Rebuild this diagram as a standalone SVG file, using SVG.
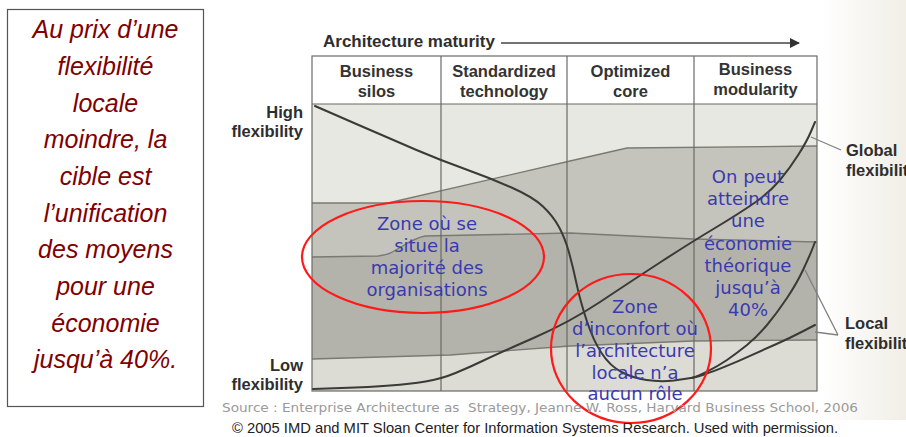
<svg xmlns="http://www.w3.org/2000/svg" width="906" height="437" viewBox="0 0 906 437">
<defs>
<style>
.note{font-family:"Liberation Sans",Arial,sans-serif;font-style:italic;font-size:25px;fill:#800000;text-anchor:middle}
.hdr{font-family:"Liberation Sans",Arial,sans-serif;font-weight:bold;font-size:16.5px;fill:#333;text-anchor:middle}
.lbl{font-family:"Liberation Sans",Arial,sans-serif;font-weight:bold;font-size:16.5px;fill:#2e2e2e}
.blue{font-family:"DejaVu Sans",Verdana,sans-serif;font-size:18px;fill:#3a3ab0;text-anchor:middle}
.grid{stroke:#6a6a66;stroke-width:1.2;fill:none}
.band{stroke:#7a7a72;stroke-width:1.3;fill:none}
.curve{stroke:#3a3a36;stroke-width:2;fill:none;stroke-linecap:round}
.lead{stroke:#808080;stroke-width:1.3;fill:none}
.ring{stroke:#ff1a1a;stroke-width:2.2;fill:none}
</style>
<marker id="ah" markerWidth="10" markerHeight="10" refX="9" refY="5" orient="auto" markerUnits="userSpaceOnUse">
<path d="M0,0 L10,5 L0,10 Z" fill="#333"/>
</marker>
<linearGradient id="paper" x1="0" y1="0" x2="1" y2="0">
<stop offset="0" stop-color="#ffffff"/>
<stop offset="1" stop-color="#f1eee6"/>
</linearGradient>
</defs>
<rect x="0" y="0" width="906" height="437" fill="#fff"/>
<rect x="820" y="0" width="86" height="420" fill="url(#paper)"/>

<g id="note-box">
<rect x="7.5" y="9.5" width="196" height="397" fill="#fff" stroke="#555" stroke-width="1.2"/>
<text class="note" x="105.5" y="38">Au prix d’une</text>
<text class="note" x="105.5" y="75">flexibilité</text>
<text class="note" x="105.5" y="112">locale</text>
<text class="note" x="105.5" y="148">moindre, la</text>
<text class="note" x="105.5" y="185">cible est</text>
<text class="note" x="105.5" y="222">l’unification</text>
<text class="note" x="105.5" y="258">des moyens</text>
<text class="note" x="105.5" y="295">pour une</text>
<text class="note" x="105.5" y="332">économie</text>
<text class="note" x="105.5" y="368">jusqu’à 40%.</text>
</g>

<g id="chart-body">
<rect x="312" y="104" width="505" height="287" fill="#e8e8e2"/>
<path d="M312,203 L388,203 L570,161 L627,148 L817,146 L817,391 L312,391 Z" fill="#c4c4bc"/>
<path d="M312,257 L378,256 C396,255 405,240 425,236 L570,233 L693,239 L817,242 L817,391 L312,391 Z" fill="#b3b3ab"/>
<path d="M312,359 L450,355 L570,346 L693,341 L817,340 L817,391 L312,391 Z" fill="#dcdcd5"/>
<path class="band" d="M312,203 L388,203 L570,161 L627,148 L817,146"/>
<path class="band" d="M312,257 L378,256 C396,255 405,240 425,236 L570,233 L693,239 L817,242"/>
<path class="band" d="M312,359 L450,355 L570,346 L693,341 L817,340"/>
</g>

<g id="header">
<rect x="312" y="56" width="505" height="48" fill="#fff"/>
<text class="hdr" x="376.5" y="77">Business</text>
<text class="hdr" x="376.5" y="97">silos</text>
<text class="hdr" x="504" y="77">Standardized</text>
<text class="hdr" x="504" y="97">technology</text>
<text class="hdr" x="630.5" y="77">Optimized</text>
<text class="hdr" x="630.5" y="97">core</text>
<text class="hdr" x="755.5" y="75">Business</text>
<text class="hdr" x="755.5" y="95">modularity</text>
</g>

<g id="grid">
<rect class="grid" x="312" y="56" width="505" height="335"/>
<line class="grid" x1="312" y1="104" x2="817" y2="104"/>
<line class="grid" x1="441" y1="56" x2="441" y2="391"/>
<line class="grid" x1="567" y1="56" x2="567" y2="391"/>
<line class="grid" x1="694" y1="56" x2="694" y2="391"/>
</g>

<g id="curves">
<path id="local-curve" class="curve" d="M315,106 L354,123 Q393,140 416.5,150 Q440,160 465,169 Q490,178 511.5,187.5 Q533,197 543,206.5 Q553,216 559,227 Q565,238 569,252.5 Q573,267 576.5,283.5 Q580,300 586.5,320 Q593,340 601.5,353 Q610,366 621.5,372 Q633,378 646.5,380 Q660,382 674,380.5 L692.5,377.8"/>
<path id="local-upper" class="curve" d="M692.5,377.8 Q697,376.7 707,371.7 Q717,366.7 727,360 Q737,353 747,345 Q757,336.7 767,325 Q777,313 787,298 Q797,283 803.5,269 Q810,255 812.5,248.5 L815,242"/>
<path id="local-lower" class="curve" d="M692.5,377.8 Q697,376.7 705,374.2 Q713,371.7 725,366.7 Q737,361.7 750,355.8 Q763,350 776.5,344 Q790,338 802.5,331.5 L815,325"/>
<path id="global-curve" class="curve" d="M313,389 L341.5,388 Q370,387 390,385.5 Q410,384 425.5,381.5 Q441,379 455.5,373 Q470,367 483.5,360.5 Q497,354 533.5,338 Q570,322 600,302 Q630,282 660,262.5 Q690,243 715,228 Q740,213 755,202.5 Q770,192 780,180 Q790,168 798.5,154.5 Q807,141 811,131.5 L815,122"/>
</g>

<g id="connectors">
<line x1="501" y1="43" x2="799" y2="43" stroke="#444" stroke-width="1.5" marker-end="url(#ah)"/>
<line class="lead" x1="811" y1="137" x2="841" y2="150"/>
<line class="lead" x1="805" y1="270" x2="838" y2="335"/>
<line class="lead" x1="815" y1="332" x2="838" y2="335"/>
</g>

<g id="axis-title">
<text class="lbl" x="323" y="47" style="font-size:17px">Architecture maturity</text>
</g>
<g id="high-label">
<text class="lbl" x="303" y="118" text-anchor="end">High</text>
<text class="lbl" x="303" y="137" text-anchor="end">flexibility</text>
</g>
<g id="low-label">
<text class="lbl" x="303" y="371" text-anchor="end">Low</text>
<text class="lbl" x="303" y="390" text-anchor="end">flexibility</text>
</g>
<g id="global-label">
<text class="lbl" x="846" y="156">Global</text>
<text class="lbl" x="846" y="176">flexibility</text>
</g>
<g id="local-label">
<text class="lbl" x="845" y="329">Local</text>
<text class="lbl" x="845" y="349">flexibility</text>
</g>

<g id="zone-majority">
<ellipse class="ring" cx="423" cy="257" rx="121" ry="56"/>
<text class="blue" x="427" y="230">Zone où se</text>
<text class="blue" x="427" y="252">situe la</text>
<text class="blue" x="427" y="274">majorité des</text>
<text class="blue" x="427" y="296">organisations</text>
</g>

<g id="zone-economy">
<text class="blue" x="748" y="183">On peut</text>
<text class="blue" x="748" y="205">atteindre</text>
<text class="blue" x="748" y="227">une</text>
<text class="blue" x="748" y="249.5">économie</text>
<text class="blue" x="748" y="272">théorique</text>
<text class="blue" x="748" y="294">jusqu’à</text>
<text class="blue" x="748" y="316">40%</text>
</g>

<g id="zone-discomfort">
<ellipse class="ring" cx="631" cy="348.5" rx="80" ry="74.5"/>
<text class="blue" x="635" y="313">Zone</text>
<text class="blue" x="635" y="335">d’inconfort où</text>
<text class="blue" x="635" y="357">l’architecture</text>
<text class="blue" x="635" y="379">locale n’a</text>
<text class="blue" x="635" y="400">aucun rôle</text>
</g>

<g id="source">
<text x="222" y="412" xml:space="preserve" textLength="636" lengthAdjust="spacingAndGlyphs" style="font-family:'DejaVu Sans',Verdana,sans-serif;font-size:13px;fill:#9a9a9a">Source : Enterprise Architecture as  Strategy, Jeanne W. Ross, Harvard Business School, 2006</text>
<text x="232" y="433" textLength="606" lengthAdjust="spacingAndGlyphs" style="font-family:'Liberation Sans',Arial,sans-serif;font-size:14.5px;fill:#222">© 2005 IMD and MIT Sloan Center for Information Systems Research. Used with permission.</text>
</g>
</svg>
